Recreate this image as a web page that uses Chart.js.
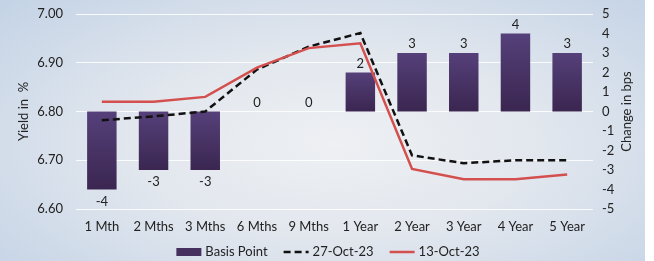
<!DOCTYPE html>
<html>
<head>
<meta charset="utf-8">
<script src="https://cdn.jsdelivr.net/npm/chart.js@4"></script>
<style>
  html, body { margin: 0; padding: 0; background: #fff; }
  #wrap {
    width: 645px; height: 261px;
    background: radial-gradient(ellipse 70% 80% at 52% 55%, #eef0f3 0%, #e2e7ee 45%, #c4d3e6 100%);
  }
</style>
</head>
<body>
<div id="wrap"><canvas id="myChart" width="645" height="261"></canvas></div>
<script>
var tenors = ["1 Mth", "2 Mths", "3 Mths", "6 Mths", "9 Mths", "1 Year", "2 Year", "3 Year", "4 Year", "5 Year"];
var basisPoint = [-4, -3, -3, 0, 0, 2, 3, 3, 4, 3];
var yield27Oct = [6.782, 6.79, 6.80, 6.886, 6.933, 6.961, 6.71, 6.694, 6.70, 6.70];
var yield13Oct = [6.82, 6.82, 6.83, 6.89, 6.93, 6.94, 6.682, 6.661, 6.661, 6.671];

var fontFamily = "Lato, 'Open Sans', sans-serif";
var font13 = "13px " + fontFamily;

// purple bars, a bit lighter at the top of each bar
function barColor(c) {
    var chart = c.chart;
    if (c.type !== "data" || !chart.chartArea) return "#45305f";
    var v = c.raw;
    var sc = chart.scales.y2;
    var top = sc.getPixelForValue(Math.max(v, 0));
    var bot = sc.getPixelForValue(Math.min(v, 0));
    if (bot - top < 1) return "#45305f";
    var g = chart.ctx.createLinearGradient(0, top, 0, bot);
    g.addColorStop(0, "#56407a");
    g.addColorStop(1, "#3a2650");
    return g;
}

var extras = {
    id: "extras",
    afterDatasetsDraw: function (chart) {
        var ctx = chart.ctx;
        var meta = chart.getDatasetMeta(0);
        ctx.save();
        ctx.font = font13;
        ctx.fillStyle = "#222";
        ctx.textAlign = "center";
        ctx.textBaseline = "middle";
        meta.data.forEach(function (bar, i) {
            var v = basisPoint[i];
            var y = v < 0 ? bar.y + 12 : bar.y - 9;
            ctx.fillText(String(v), bar.x, y);
        });
        ctx.restore();
    },
    afterDraw: function (chart) {
        var ctx = chart.ctx;
        var area = chart.chartArea;
        ctx.save();
        ctx.font = font13;
        ctx.fillStyle = "#222";

        // right axis title, reading bottom to top
        ctx.save();
        ctx.translate(627, (area.top + area.bottom) / 2);
        ctx.rotate(-Math.PI / 2);
        ctx.textAlign = "center";
        ctx.textBaseline = "middle";
        ctx.fillText("Change in bps", 0, 0);
        ctx.restore();

        // legend
        var sym = 25, gapIn = 4, gapOut = 16;
        var total = 0;
        chart.data.datasets.forEach(function (d, i) {
            total += sym + gapIn + ctx.measureText(d.label).width + (i < 2 ? gapOut : 0);
        });
        var x = 328 - total / 2;
        var y = 252;
        ctx.textBaseline = "middle";
        ctx.textAlign = "left";
        chart.data.datasets.forEach(function (d, i) {
            if (i === 0) {
                ctx.fillStyle = "#45305f";
                ctx.fillRect(x, y - 4, sym, 8);
            } else {
                ctx.beginPath();
                ctx.strokeStyle = d.borderColor;
                ctx.lineWidth = 2.5;
                ctx.setLineDash(d.borderDash || []);
                ctx.moveTo(x, y);
                ctx.lineTo(x + sym, y);
                ctx.stroke();
                ctx.setLineDash([]);
            }
            x += sym + gapIn;
            ctx.fillStyle = "#222";
            ctx.fillText(d.label, x, y);
            x += ctx.measureText(d.label).width + gapOut;
        });
        ctx.restore();
    }
};

var ctx = document.getElementById("myChart").getContext("2d");

var myChart = new Chart(ctx, {
    type: "bar",
    data: {
        labels: tenors,
        datasets: [
            {
                type: "bar",
                label: "Basis Point",
                data: basisPoint,
                yAxisID: "y2",
                backgroundColor: barColor,
                barPercentage: 0.57,
                categoryPercentage: 1,
                order: 2
            },
            {
                type: "line",
                label: "27-Oct-23",
                data: yield27Oct,
                yAxisID: "y",
                borderColor: "#111",
                backgroundColor: "#111",
                borderWidth: 2.5,
                borderDash: [7, 4],
                pointRadius: 0,
                tension: 0,
                order: 1
            },
            {
                type: "line",
                label: "13-Oct-23",
                data: yield13Oct,
                yAxisID: "y",
                borderColor: "#d4504e",
                backgroundColor: "#d4504e",
                borderWidth: 2.5,
                pointRadius: 0,
                tension: 0,
                order: 0
            }
        ]
    },
    options: {
        responsive: false,
        animation: false,
        layout: { padding: { top: 14, left: 12, right: 28, bottom: 26 } },
        plugins: {
            tooltip: { enabled: false },
            legend: { display: false }
        },
        scales: {
            x: {
                grid: { display: false, drawTicks: false },
                border: { display: false },
                ticks: { color: "#222", font: { family: fontFamily, size: 13 }, padding: 10 },
                afterFit: function (s) { s.height = 26; s.paddingLeft = 0; s.paddingRight = 0; }
            },
            y: {
                position: "left",
                min: 6.6,
                max: 7.0,
                ticks: {
                    stepSize: 0.1,
                    color: "#222",
                    padding: 13,
                    font: { family: fontFamily, size: 13 },
                    callback: function (v) { return v.toFixed(2); }
                },
                grid: { color: "rgba(255,255,255,0.85)", lineWidth: 1, drawTicks: false },
                border: { display: false },
                title: { display: true, text: "Yield in  %", color: "#222", font: { family: fontFamily, size: 13 } },
                afterFit: function (s) { s.width = 64; s.paddingTop = 0; s.paddingBottom = 0; }
            },
            y2: {
                position: "right",
                min: -5,
                max: 5,
                ticks: {
                    stepSize: 1,
                    autoSkip: false,
                    color: "#222",
                    padding: 9,
                    font: { family: fontFamily, size: 13 }
                },
                grid: { display: false, drawTicks: false },
                border: { display: false },
                afterFit: function (s) { s.width = 24; s.paddingTop = 0; s.paddingBottom = 0; }
            }
        }
    },
    plugins: [extras]
});
</script>
</body>
</html>
